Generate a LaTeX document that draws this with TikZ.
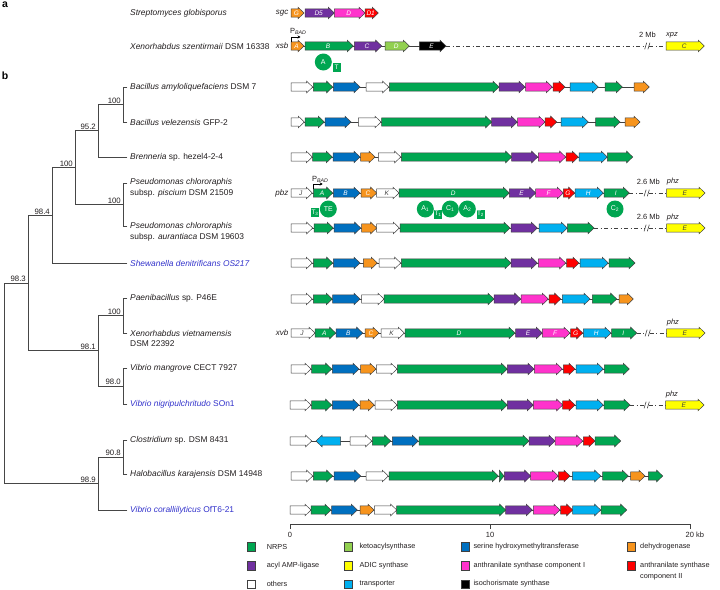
\documentclass[tikz,border=0pt]{standalone}
\usepackage{fontspec}
\setmainfont{Liberation Sans}
\usetikzlibrary{arrows.meta}
\definecolor{nrps}{RGB}{0,166,81}
\definecolor{keto}{RGB}{146,208,80}
\definecolor{ser}{RGB}{0,112,192}
\definecolor{dehyd}{RGB}{247,148,29}
\definecolor{acyl}{RGB}{112,48,160}
\definecolor{adic}{RGB}{255,255,0}
\definecolor{asI}{RGB}{255,51,204}
\definecolor{asII}{RGB}{255,0,0}
\definecolor{oth}{RGB}{255,255,255}
\definecolor{trans}{RGB}{0,176,240}
\definecolor{iso}{RGB}{0,0,0}
\definecolor{bluetxt}{RGB}{51,51,204}
\definecolor{edgec}{RGB}{64,64,64}
\definecolor{txtc}{RGB}{35,31,32}
\definecolor{treec}{RGB}{70,70,70}
\tikzset{
  gene/.style={draw=edgec, line width=0.5pt, line join=miter},
  backbone/.style={draw=edgec, line width=0.6pt},
  farline/.style={draw=edgec, line width=0.6pt, dash pattern=on 4pt off 2.5pt on 1pt off 2.5pt},
  tree/.style={draw=treec, line width=0.8pt, line cap=rect},
  sp/.style={anchor=west, inner sep=1pt, font=\fontsize{8.4}{10}\selectfont, text=txtc},
  spb/.style={sp, text=bluetxt},
  bs/.style={anchor=south east, inner sep=1pt, font=\fontsize{7.8}{9}\selectfont, text=txtc},
  glab/.style={font=\fontsize{6.5}{7}\selectfont\itshape, inner sep=0pt},
  clab/.style={anchor=east, inner sep=0pt, font=\fontsize{8}{9}\selectfont\itshape, text=txtc},
  small/.style={inner sep=0pt, font=\fontsize{7.5}{9}\selectfont, text=txtc},
  domc/.style={circle, fill=nrps, minimum size=17pt, inner sep=0pt, text=white, font=\fontsize{7}{8}\selectfont},
  domt/.style={rectangle, fill=nrps, minimum width=8pt, minimum height=9pt, inner sep=0pt, text=white, font=\fontsize{6.5}{7}\selectfont},
  leg/.style={anchor=west, inner sep=0pt, font=\fontsize{7.3}{8.8}\selectfont, text=txtc, align=left},
  legbox/.style={draw=edgec, line width=0.5pt, minimum size=8.3pt, inner sep=0pt},
  sect/.style={inner sep=0pt, font=\fontsize{10.5}{12}\selectfont\bfseries},
  prom/.style={draw=black, line width=0.7pt, -{Stealth[length=3pt,width=3.2pt]}}
}
% gene arrow pointing right: x1 x2 y fill
\newcommand\gA[4]{%
  \pgfmathsetmacro\gnhd{max(#1,#2-6)}%
  \filldraw[gene, fill=#4] (#1,#3-4.1) -- (\gnhd,#3-4.1) -- (\gnhd,#3-5.8) -- (#2,#3) -- (\gnhd,#3+5.8) -- (\gnhd,#3+4.1) -- (#1,#3+4.1) -- cycle;}
% gene arrow pointing left: x1(tip) x2 y fill
\newcommand\gR[4]{%
  \pgfmathsetmacro\gnhd{min(#2,#1+6)}%
  \filldraw[gene, fill=#4] (#2,#3-4.1) -- (\gnhd,#3-4.1) -- (\gnhd,#3-5.8) -- (#1,#3) -- (\gnhd,#3+5.8) -- (\gnhd,#3+4.1) -- (#2,#3+4.1) -- cycle;}
% labelled gene: x1 x2 y fill label textcolor
\newcommand\gL[6]{%
  \gA{#1}{#2}{#3}{#4}%
  \node[glab, text=#6] at ({(#1+#2)/2-1},#3) {#5};}
\newcommand\bbone[3]{\draw[backbone] (#1,#3) -- (#2,#3);}
% far link: x-from, break x, x-to, y
\newcommand\farlink[4]{%
  \draw[farline] (#1,#4) -- (#2-2,#4);
  \draw[farline] (#2+2,#4) -- (#3,#4);
  \draw[edgec, line width=0.6pt] (#2-2.6,#4+3.3) -- (#2-0.6,#4-3.3) (#2+0.6,#4+3.3) -- (#2+2.6,#4-3.3);}
\begin{document}
\begin{tikzpicture}[x=1pt,y=-1pt]
\useasboundingbox (0,0) rectangle (720,589);
\fill[white] (0,0) rectangle (720,589);

% section letters
\node[sect] (secta) at (5,5) {a};
\node[sect] (sectb) at (5,76) {b};

% ---------- part a ----------
\node[sp] (sgl) at (129,13) {\textit{Streptomyces globisporus}};
\node[clab] (sgc) at (288.5,13) {sgc};
\gL{291}{304}{13}{dehyd}{G}{white}
\gL{305}{334.3}{13}{acyl}{D5}{white}
\gL{334.3}{365}{13}{asI}{D}{white}
\gL{365}{378.3}{13}{asII}{D1}{white}

\node[sp] (xszl) at (129,46) {\textit{Xenorhabdus szentirmaii} DSM 16338};
\node[clab] (xsb) at (288.5,46) {xsb};
\bbone{291}{446}{46}
\farlink{446}{647.3}{666}{46}
\gL{291}{304}{46}{dehyd}{A}{white}
\gL{305}{353.3}{46}{nrps}{B}{white}
\gL{354.3}{381.7}{46}{acyl}{C}{white}
\gL{385}{409.3}{46}{keto}{D}{white}
\gL{419.3}{446}{46}{iso}{E}{white}
\gL{666}{704.3}{46}{adic}{C}{black!75}
\node[small] (mb2) at (647.5,35) {2 Mb};
\node[small, anchor=west, font=\fontsize{7.5}{9}\selectfont\itshape] (xpz) at (666,35) {xpz};
\draw[prom] (291,41.5) |- (300.5,37);
\node[anchor=base west, inner sep=0pt, font=\fontsize{7.5}{9}\selectfont, text=txtc] (pbad1) at (290,33.5) {P\textsubscript{\textit{BAD}}};
\node[domc] (dA) at (323.3,62) {A};
\node[domt] (dT) at (336.5,67.5) {T};

% ---------- tree ----------
\draw[tree] (127,87) -- (123,87) -- (123,122) -- (127,122);
\draw[tree] (123,104.5) -- (98,104.5);
\draw[tree] (98,104.5) -- (98,157) -- (127,157);
\draw[tree] (98,130.75) -- (75,130.75);
\draw[tree] (127,183) -- (123,183) -- (123,226) -- (127,226);
\draw[tree] (123,204.5) -- (75,204.5);
\draw[tree] (75,130.75) -- (75,204.5);
\draw[tree] (75,167.6) -- (52,167.6);
\draw[tree] (52,167.6) -- (52,263) -- (127,263);
\draw[tree] (52,215.3) -- (28,215.3);
\draw[tree] (127,298) -- (123,298) -- (123,333) -- (127,333);
\draw[tree] (123,315.5) -- (98,315.5);
\draw[tree] (127,368) -- (123,368) -- (123,404) -- (127,404);
\draw[tree] (123,386) -- (98,386);
\draw[tree] (98,315.5) -- (98,386);
\draw[tree] (98,350.75) -- (28,350.75);
\draw[tree] (28,215.3) -- (28,350.75);
\draw[tree] (28,283) -- (4,283);
\draw[tree] (127,440) -- (123,440) -- (123,474) -- (127,474);
\draw[tree] (123,457) -- (98,457);
\draw[tree] (98,457) -- (98,510) -- (127,510);
\draw[tree] (98,483.5) -- (4,483.5);
\draw[tree] (4,283) -- (4,483.5);

\node[bs] (b1) at (122,104.5) {100};
\node[bs] (b2) at (97,130.75) {95.2};
\node[bs] (b3) at (122,204.5) {100};
\node[bs] (b4) at (74,167.6) {100};
\node[bs] (b5) at (51,215.3) {98.4};
\node[bs] (b6) at (122,315.5) {100};
\node[bs] (b7) at (122,386) {98.0};
\node[bs] (b8) at (97,350.75) {98.1};
\node[bs] (b9) at (27,283) {98.3};
\node[bs] (b10) at (122,457) {90.8};
\node[bs] (b11) at (97,483.5) {98.9};

% ---------- species labels ----------
\node[sp] (s1) at (129,87) {\textit{Bacillus amyloliquefaciens} DSM 7};
\node[sp] (s2) at (129,122) {\textit{Bacillus velezensis} GFP-2};
\node[sp] (s3) at (129,157) {\textit{Brenneria} sp. hezel4-2-4};
\node[sp] (s4a) at (129,182.5) {\textit{Pseudomonas chlororaphis}};
\node[sp] (s4b) at (129,193.5) {subsp. \textit{piscium} DSM 21509};
\node[sp] (s5a) at (129,226.5) {\textit{Pseudomonas chlororaphis}};
\node[sp] (s5b) at (129,237.5) {subsp. \textit{aurantiaca} DSM 19603};
\node[spb] (s6) at (129,263) {\textit{Shewanella denitrificans OS217}};
\node[sp] (s7) at (129,298.5) {\textit{Paenibacillus} sp. P46E};
\node[sp] (s8a) at (129,333) {\textit{Xenorhabdus vietnamensis}};
\node[sp] (s8b) at (129,343.5) {DSM 22392};
\node[sp] (s9) at (129,368.5) {\textit{Vibrio mangrove} CECT 7927};
\node[spb] (s10) at (129,404) {\textit{Vibrio nigripulchritudo} SOn1};
\node[sp] (s11) at (129,440) {\textit{Clostridium} sp. DSM 8431};
\node[sp] (s12) at (129,474.5) {\textit{Halobacillus karajensis} DSM 14948};
\node[spb] (s13) at (129,510) {\textit{Vibrio coralliilyticus} OfT6-21};

% ---------- gene rows ----------
% row 1
\bbone{291}{649}{87}
\gA{291}{312.7}{87}{oth}\gA{313.3}{332.7}{87}{nrps}\gA{333.3}{360}{87}{ser}
\gA{366}{388.7}{87}{oth}\gA{389.3}{499}{87}{nrps}\gA{499}{525}{87}{acyl}
\gA{525.7}{552.3}{87}{asI}\gA{553}{565}{87}{asII}\gA{570}{598.3}{87}{trans}
\gA{605}{622.3}{87}{nrps}\gA{634}{649.3}{87}{dehyd}
% row 2
\bbone{291}{640}{122}
\gA{291}{304.3}{122}{oth}\gA{305}{324.3}{122}{nrps}\gA{325}{351}{122}{ser}
\gA{358.3}{381}{122}{oth}\gA{381.7}{491.7}{122}{nrps}\gA{491.7}{517.3}{122}{acyl}
\gA{517.7}{545}{122}{asI}\gA{545}{556.7}{122}{asII}\gA{561}{588.3}{122}{trans}
\gA{595.7}{620}{122}{nrps}\gA{625}{640}{122}{dehyd}
% row 3
\bbone{291}{632}{157}
\gA{291}{312.3}{157}{oth}\gA{312.7}{332.3}{157}{nrps}\gA{333}{360}{157}{ser}
\gA{360.7}{375}{157}{dehyd}\gA{378.3}{400.7}{157}{oth}\gA{401.3}{511.7}{157}{nrps}
\gA{511.7}{537.7}{157}{acyl}\gA{538.3}{565.7}{157}{asI}\gA{566}{578.3}{157}{asII}
\gA{579}{607.3}{157}{trans}\gA{607.3}{632.7}{157}{nrps}
% row 4 pbz
\node[clab] (pbz) at (288.5,193) {pbz};
\bbone{291}{629}{193}
\farlink{629.3}{646.7}{666.7}{193}
\gL{291}{312.3}{193}{oth}{J}{black!75}
\gL{313.3}{332.7}{193}{nrps}{A}{white}
\gL{333.3}{360}{193}{ser}{B}{white}
\gL{361}{376.7}{193}{dehyd}{C}{white}
\gL{376.7}{399}{193}{oth}{K}{black!75}
\gL{399}{509.3}{193}{nrps}{D}{white}
\gL{509.3}{535.7}{193}{acyl}{E}{white}
\gL{535.7}{563.3}{193}{asI}{F}{white}
\gL{563.3}{574.7}{193}{asII}{G}{white}
\gL{575}{603.3}{193}{trans}{H}{white}
\gL{604}{629.3}{193}{nrps}{I}{white}
\gL{666.7}{705}{193}{adic}{E}{black!75}
\node[small] (mb4) at (648.3,181.5) {2.6 Mb};
\node[small, anchor=west, font=\fontsize{7.5}{9}\selectfont\itshape] (phz4) at (666.7,182) {phz};
\draw[prom] (313.3,188.5) |- (322.7,184);
\node[anchor=base west, inner sep=0pt, font=\fontsize{7.5}{9}\selectfont, text=txtc] (pbad2) at (312,181) {P\textsubscript{\textit{BAD}}};
\node[domt] (dT3) at (315,212.5) {T\textsubscript{3}};
\node[domc] (dTE) at (328.3,209) {TE};
\node[domc] (dA1) at (425.3,209) {A\textsubscript{1}};
\node[domt] (dT1) at (438,214) {T\textsubscript{1}};
\node[domc] (dC1) at (450.3,209) {C\textsubscript{1}};
\node[domc] (dA2) at (467.3,209) {A\textsubscript{2}};
\node[domt] (dT2) at (480.5,214) {T\textsubscript{2}};
\node[domc] (dC2) at (615,209) {C\textsubscript{2}};
% row 5
\bbone{291}{594}{228}
\farlink{594}{646.7}{666.7}{228}
\gA{291}{312.7}{228}{oth}\gA{314}{333.3}{228}{nrps}\gA{334}{360.7}{228}{ser}
\gA{361.7}{376.7}{228}{dehyd}\gA{376.7}{399.3}{228}{oth}\gA{400}{510}{228}{nrps}
\gA{511}{537.3}{228}{acyl}\gA{539}{567.3}{228}{trans}\gA{567.3}{594}{228}{nrps}
\gL{666.7}{705}{228}{adic}{E}{black!75}
\node[small] (mb5) at (648.3,217) {2.6 Mb};
\node[small, anchor=west, font=\fontsize{7.5}{9}\selectfont\itshape] (phz5) at (666.7,218) {phz};
% row 6
\bbone{291}{635}{263}
\gA{291}{312.3}{263}{oth}\gA{313.3}{332.7}{263}{nrps}\gA{333.3}{360}{263}{ser}
\gA{363.3}{377.3}{263}{dehyd}\gA{379}{400.7}{263}{oth}\gA{401.3}{511}{263}{nrps}
\gA{511}{537.3}{263}{acyl}\gA{538.3}{565.7}{263}{asI}\gA{566.7}{579}{263}{asII}
\gA{580}{608.3}{263}{trans}\gA{609}{635}{263}{nrps}
% row 7
\bbone{291}{633}{299}
\gA{291}{312.3}{299}{oth}\gA{313.3}{332.3}{299}{nrps}\gA{332.7}{360}{299}{ser}
\gA{361.7}{384}{299}{oth}\gA{384}{494}{299}{nrps}\gA{494}{520.7}{299}{acyl}
\gA{521}{548.3}{299}{asI}\gA{549}{560.7}{299}{asII}\gA{562.3}{590}{299}{trans}
\gA{592.3}{616.7}{299}{nrps}\gA{619}{633.3}{299}{dehyd}
% row 8 xvb
\node[clab] (xvb) at (288.5,333) {xvb};
\bbone{291}{636}{333}
\farlink{636.7}{647.7}{666.7}{333}
\gL{291}{315}{333}{oth}{J}{black!75}
\gL{315}{335.7}{333}{nrps}{A}{white}
\gL{336}{362.7}{333}{ser}{B}{white}
\gL{365}{379}{333}{dehyd}{C}{white}
\gL{381}{404.3}{333}{oth}{K}{black!75}
\gL{405}{515}{333}{nrps}{D}{white}
\gL{515.7}{542.3}{333}{acyl}{E}{white}
\gL{542.3}{570}{333}{asI}{F}{white}
\gL{570.7}{582.7}{333}{asII}{G}{white}
\gL{583.3}{611}{333}{trans}{H}{white}
\gL{611.7}{636.7}{333}{nrps}{I}{white}
\gL{666.7}{705}{333}{adic}{E}{black!75}
\node[small, anchor=west, font=\fontsize{7.5}{9}\selectfont\itshape] (phz8) at (666.7,322.5) {phz};
% row 9
\bbone{291}{629}{369}
\gA{291}{311}{369}{oth}\gA{311.7}{331.7}{369}{nrps}\gA{332.3}{359}{369}{ser}
\gA{360.7}{376}{369}{dehyd}\gA{376.3}{397}{369}{oth}\gA{397.3}{507.3}{369}{nrps}
\gA{507.3}{534}{369}{acyl}\gA{534.3}{562.3}{369}{asI}\gA{563.3}{575}{369}{asII}
\gA{576}{603.3}{369}{trans}\gA{604.3}{629.3}{369}{nrps}
% row 10
\bbone{290}{630}{405}
\farlink{630}{646.7}{665.7}{405}
\gA{290}{311}{405}{oth}\gA{311.7}{331.7}{405}{nrps}\gA{332.3}{359}{405}{ser}
\gA{360}{374.3}{405}{dehyd}\gA{375}{397}{405}{oth}\gA{397.3}{507.3}{405}{nrps}
\gA{507.3}{533.3}{405}{acyl}\gA{533.3}{562.7}{405}{asI}\gA{562.7}{575}{405}{asII}
\gA{576}{603.3}{405}{trans}\gA{604}{630}{405}{nrps}
\gL{665.7}{704}{405}{adic}{E}{black!75}
\node[small, anchor=west, font=\fontsize{7.5}{9}\selectfont\itshape] (phz10) at (665.7,395) {phz};
% row 11
\bbone{290}{620}{441}
\gA{290}{311.7}{441}{oth}\gR{316}{340.7}{441}{trans}\gA{350}{371.7}{441}{oth}
\gA{372.3}{390.7}{441}{nrps}\gA{392.3}{418.3}{441}{ser}\gA{419}{529}{441}{nrps}
\gA{529}{555}{441}{acyl}\gA{555}{582.7}{441}{asI}\gA{583.3}{595}{441}{asII}
\gA{595}{620.7}{441}{nrps}
% row 12
\bbone{291}{662}{476}
\gA{291}{312.7}{476}{oth}\gA{313.3}{332.7}{476}{nrps}\gA{334}{360.7}{476}{ser}
\gA{366}{388.3}{476}{oth}\gA{389}{498.3}{476}{nrps}\gA{499.3}{504}{476}{nrps}
\gA{504.3}{530.7}{476}{acyl}\gA{530.7}{558.3}{476}{asI}\gA{558.3}{570}{476}{asII}
\gA{572.3}{600.7}{476}{trans}\gA{602.7}{628.3}{476}{nrps}\gA{630.7}{645}{476}{dehyd}
\gA{648.3}{662.7}{476}{nrps}
% row 13
\bbone{290}{626}{510}
\gA{290}{311}{510}{oth}\gA{311}{331}{510}{nrps}\gA{331.7}{357.3}{510}{ser}
\gA{360}{374}{510}{dehyd}\gA{374.3}{396.7}{510}{oth}\gA{396.7}{505.7}{510}{nrps}
\gA{505.7}{532.3}{510}{acyl}\gA{533.3}{560}{510}{asI}\gA{560.7}{572.7}{510}{asII}
\gA{572.7}{600.7}{510}{trans}\gA{601}{626.7}{510}{nrps}

% ---------- scale bar ----------
\draw[edgec, line width=0.7pt] (290,529) -- (290,524) -- (690,524) -- (690,529);
\draw[edgec, line width=0.7pt] (490,524) -- (490,529);
\node[small] (sc0) at (290,534.5) {0};
\node[small] (sc10) at (490,534.5) {10};
\node[small, anchor=west] (sc20) at (685.5,534.5) {20 kb};

% ---------- legend ----------
\node[legbox, fill=nrps] (l1) at (250.9,546.7) {};
\node[leg] (t1) at (266.7,546.7) {NRPS};
\node[legbox, fill=keto] (l2) at (348.5,546.7) {};
\node[leg] (t2) at (359.3,546.7) {ketoacylsynthase};
\node[legbox, fill=ser] (l3) at (465.2,546.7) {};
\node[leg] (t3) at (473.3,546.7) {serine hydroxymethyltransferase};
\node[legbox, fill=dehyd] (l4) at (630.9,546.7) {};
\node[leg] (t4) at (640,546.7) {dehydrogenase};
\node[legbox, fill=acyl] (l5) at (250.9,565.7) {};
\node[leg] (t5) at (266.7,565.7) {acyl AMP-ligase};
\node[legbox, fill=adic] (l6) at (348.5,565.7) {};
\node[leg] (t6) at (359.3,565.7) {ADIC synthase};
\node[legbox, fill=asI] (l7) at (465.2,565.7) {};
\node[leg] (t7) at (473.3,565.7) {anthranilate synthase component I};
\node[legbox, fill=asII] (l8) at (630.9,565.7) {};
\node[leg] (t8) at (640,566) {anthranilate synthase};
\node[leg] (t8b) at (640,576.7) {component II};
\node[legbox, fill=oth] (l9) at (250.9,584) {};
\node[leg] (t9) at (266.7,584) {others};
\node[legbox, fill=trans] (l10) at (348.5,584) {};
\node[leg] (t10) at (359.3,584) {transporter};
\node[legbox, fill=iso] (l11) at (465.2,584) {};
\node[leg] (t11) at (473.3,584) {isochorismate synthase};
\end{tikzpicture}
\end{document}
